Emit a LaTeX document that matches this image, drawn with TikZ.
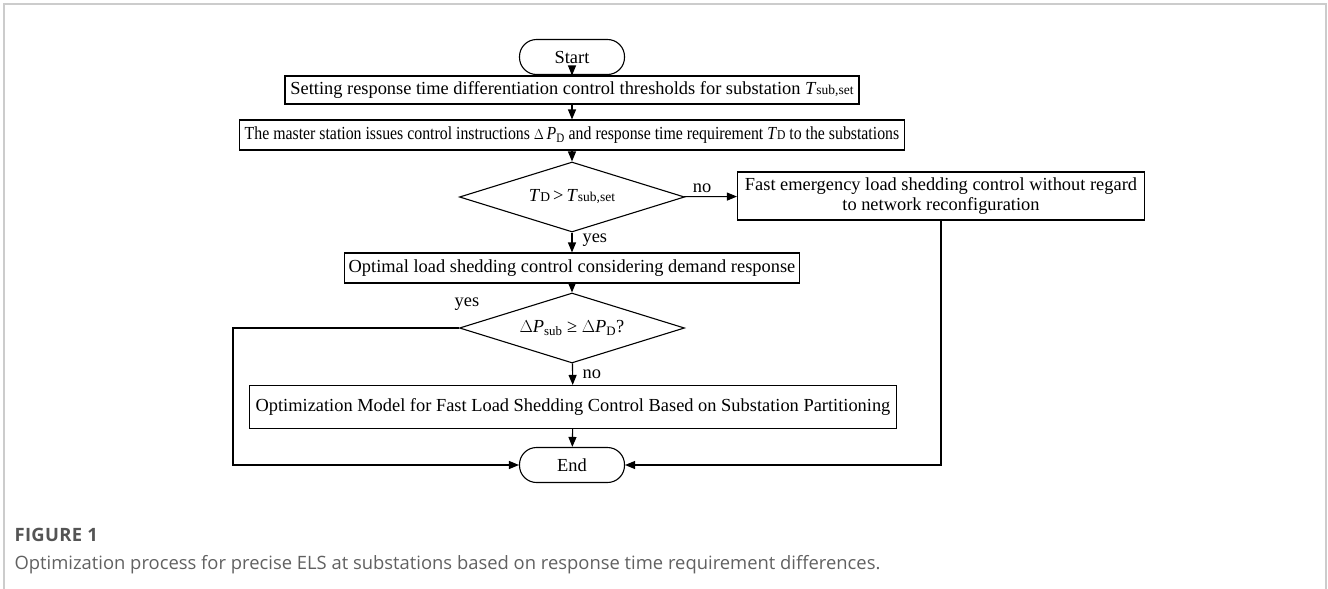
\documentclass[tikz,border=0pt]{standalone}
\usepackage{fontspec}
\usepackage{graphicx}
\setmainfont{Liberation Serif}
\newfontfamily\capfont{Open Sans}
\usetikzlibrary{shapes.geometric,arrows.meta}

% small upright index set after a symbol
\newcommand{\idx}[1]{{\fontsize{13.5}{15}\selectfont #1}}

\begin{document}
\begin{tikzpicture}[x=1pt,y=-1pt,
  line width=1.1pt,
  flow/.style={-{Triangle[length=10pt,width=8pt]}},
  txt/.style={font=\fontsize{18.4}{22}\selectfont},
  procbox/.style={draw, rectangle, inner sep=0pt, txt},
  termbox/.style={draw, rectangle, rounded corners=17pt, inner sep=0pt,
    minimum width=105pt, minimum height=35pt, txt},
  decide/.style={draw, diamond, shape aspect=3.2, inner sep=0pt,
    minimum width=225pt, minimum height=70pt, txt},
  lbl/.style={inner sep=0pt, txt},
  frame/.style={draw=black!20, line width=2pt},
  capmain/.style={inner sep=0pt, anchor=base west, text=black!62,
    font=\capfont\fontsize{18.4}{22}\selectfont}]

\useasboundingbox (0,0) rectangle (1328,589);

% outer frame, open at the bottom
\draw[frame] (4,589) -- (4,4) -- (1326,4) -- (1326,589);

% flow nodes
\node[termbox] (start) at (572,57) {Start};
\node[procbox, minimum width=574pt, minimum height=28pt] (thr) at (572,90)
  {Setting response time differentiation control thresholds for substation \textit{T}\idx{sub,set}};
\node[procbox, minimum width=665pt, minimum height=30pt] (issue) at (572,135)
  {\scalebox{0.86}[1]{The master station issues control instructions \idx{$\Delta$}\,\textit{P}\textsubscript{D} and response time requirement \textit{T}\idx{D} to the substations}};
\node[decide] (cmp) at (572,197)
  {\textit{T}\idx{D}\,>\,\textit{T}\idx{sub,set}};
\node[procbox, minimum width=407pt, minimum height=48pt, align=center] (fast) at (941,196)
  {Fast emergency load shedding control without regard\\[-2pt]to network reconfiguration};
\node[procbox, minimum width=455pt, minimum height=30pt] (opt) at (572,268)
  {Optimal load shedding control considering demand response};
\node[decide] (chk) at (572,328)
  {$\Delta$\textit{P}\textsubscript{sub} ≥ $\Delta$\textit{P}\textsubscript{D}?};
\node[procbox, minimum width=647pt, minimum height=43pt] (part) at (573,407)
  {Optimization Model for Fast Load Shedding Control Based on Substation Partitioning};
\node[termbox] (end) at (572,465) {End};

% connectors
\draw[flow] (start) -- (thr);
\draw[flow] (thr) -- (issue);
\draw[flow] (issue) -- (cmp);
\draw[flow] (cmp) -- (fast);
\draw[flow] (cmp) -- (opt);
\draw[flow] (opt) -- (chk);
\draw[flow] (chk) -- (part);
\draw[flow] (part) -- (end);
\draw[flow] (chk.west) -| (233,465) -- (end.west);
\draw[flow] (fast.south) |- (end.east);

% branch labels
\node[lbl] (noA) at (702,188) {no};
\node[lbl, anchor=west] (yesA) at (582,240) {yes};
\node[lbl] (yesB) at (467,304) {yes};
\node[lbl, anchor=west] (noB) at (582,374) {no};

% caption
\node[capmain, font=\capfont\bfseries\fontsize{18.4}{22}\selectfont, text=black!67] (fig) at (14,541)
  {\addfontfeature{LetterSpace=2}FIGURE 1};
\node[capmain] (cap) at (14,569) {Optimization process for precise ELS at substations based on response time requirement differences.};

\end{tikzpicture}
\end{document}
